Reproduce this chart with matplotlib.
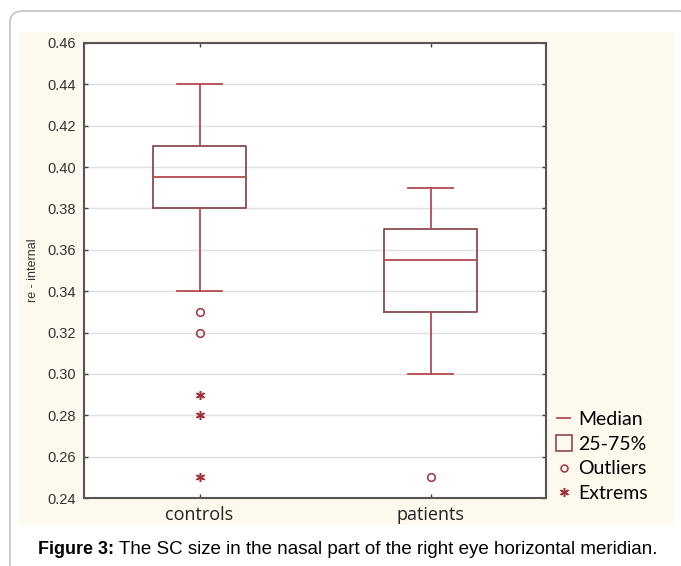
import matplotlib.pyplot as plt
from matplotlib.lines import Line2D
from matplotlib.patches import FancyBboxPatch, Rectangle

groups = ['controls', 'patients']
whislo = [0.34, 0.30]
q1 = [0.38, 0.33]
med = [0.395, 0.355]
q3 = [0.41, 0.37]
whishi = [0.44, 0.39]
outliers = [[0.33, 0.32], [0.25]]
extremes = [[0.29, 0.28, 0.25], []]
yticks = [0.24, 0.26, 0.28, 0.30, 0.32, 0.34, 0.36, 0.38, 0.40, 0.42, 0.44, 0.46]

box_col = '#8c4a52'
whisk_col = '#b54a50'
pt_col = '#a0303a'

fig = plt.figure(figsize=(6.81, 5.66), dpi=100)
fig.patch.set_facecolor('white')

# rounded outer frame + cream panel, behind the axes
fig.patches.append(FancyBboxPatch((10/681, -0.05), 1.0, 1 - 11/566 + 0.05,
                                  boxstyle='round,pad=0,rounding_size=0.02',
                                  transform=fig.transFigure, fc='white',
                                  ec='#c4c4c4', lw=1.2, zorder=-2))
fig.patches.append(Rectangle((19/681, 1 - 525/566), 656/681, 493/566,
                             transform=fig.transFigure, fc='#fef9ee', ec='none', zorder=-1))

ax = fig.add_axes([84/681, 1 - 498/566, 462/681, 455/566])
ax.set_facecolor('white')

stats = []
for i, g in enumerate(groups):
    stats.append(dict(label=g, whislo=whislo[i], q1=q1[i], med=med[i],
                      q3=q3[i], whishi=whishi[i], fliers=[]))

ax.bxp(stats, positions=[1, 2], widths=0.4, showfliers=False,
       boxprops=dict(color=box_col, lw=1.3),
       medianprops=dict(color=whisk_col, lw=1.3),
       whiskerprops=dict(color=whisk_col, lw=1.3),
       capprops=dict(color=whisk_col, lw=1.3),
       capwidths=0.195)

for i in range(len(groups)):
    if outliers[i]:
        ax.plot([i + 1] * len(outliers[i]), outliers[i], 'o', ms=5.5,
                mfc='none', mec=pt_col, mew=1.1)
    if extremes[i]:
        ax.plot([i + 1] * len(extremes[i]), extremes[i], ls='none',
                marker=(6, 2, 0), ms=6.5, mec=pt_col, mew=1.1)

ax.set_xlim(0.5, 2.5)
ax.set_ylim(0.24, 0.46)
ax.set_yticks(yticks)
ax.set_yticklabels(['%.2f' % v for v in yticks], fontsize=10.5,
                   family='Liberation Sans', color='#333333')
ax.set_xticks([1, 2])
ax.set_xticklabels(groups, fontsize=13, family='Open Sans', color='#222222')
ax.tick_params(axis='both', direction='in', length=3, width=1,
               color='#444444', top=True, right=True)
ax.tick_params(axis='y', pad=6)
ax.tick_params(axis='x', pad=6)
ax.yaxis.grid(True, color='#e0e0e0', lw=1)
ax.set_axisbelow(True)
for s in ax.spines.values():
    s.set_color('#555555')
    s.set_linewidth(1.5)

ax.set_ylabel('re - internal', fontsize=9, family='Liberation Sans',
              color='#333333', labelpad=6)

handles = [
    Line2D([], [], color=whisk_col, lw=1.3),
    Line2D([], [], ls='none', marker='s', ms=11, mfc='none', mec=box_col, mew=1.2),
    Line2D([], [], ls='none', marker='o', ms=5, mfc='none', mec=pt_col, mew=1.1),
    Line2D([], [], ls='none', marker=(6, 2, 0), ms=6.5, mec=pt_col, mew=1.1),
]
labels = ['Median', '25-75%', 'Outliers', 'Extrems']
fig.legend(handles, labels, loc='upper left',
           bbox_to_anchor=(549/681, 1 - 403/566), frameon=False,
           handlelength=0.7, handletextpad=0.4, labelspacing=0.4,
           borderaxespad=0, prop={'family': 'Lato', 'size': 14})

cy = 1 - 550/566
t1 = fig.text(38/681, cy, 'Figure 3:', ha='left', va='center',
              fontsize=13, fontweight='bold', family='Liberation Sans')
fig.canvas.draw()
bb = t1.get_window_extent()
fig.text((bb.x1 + 5) / 681, cy,
         'The SC size in the nasal part of the right eye horizontal meridian.',
         ha='left', va='center', fontsize=13.5, family='Liberation Sans')

plt.savefig('out.png', dpi=100)
